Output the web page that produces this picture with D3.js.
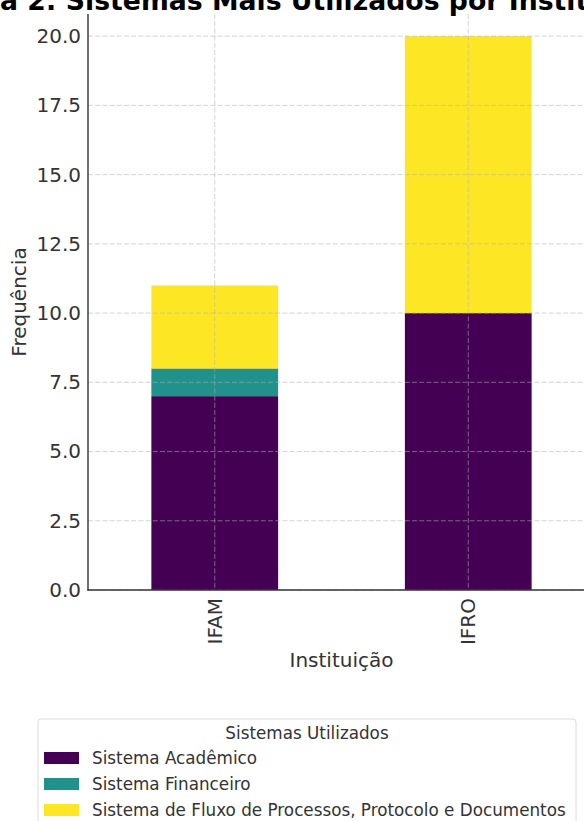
<!DOCTYPE html>
<html>
<head>
<meta charset="utf-8">
<script src="https://cdn.jsdelivr.net/npm/d3@7"></script>
<style>
  html, body { margin: 0; padding: 0; background: #fff; }
  svg { display: block; }
  text { font-family: "DejaVu Sans", sans-serif; }
</style>
</head>
<body>
<svg id="chart" width="584" height="821"></svg>
<script>
// ---- data ----
const categories = ["IFAM", "IFRO"];
const seriesNames = ["Sistema Acadêmico", "Sistema Financeiro", "Sistema de Fluxo de Processos, Protocolo e Documentos"];
const sistemaAcademico = [7, 10];
const sistemaFinanceiro = [1, 0];
const sistemaFluxo = [3, 10];
const seriesColors = ["#440154", "#21918c", "#fde725"];
const yTicks = [0, 2.5, 5, 7.5, 10, 12.5, 15, 17.5, 20];
const titleText = "Figura 2: Sistemas Mais Utilizados por Instituição";
const xLabel = "Instituição";
const yLabel = "Frequência";
const legendTitle = "Sistemas Utilizados";

// ---- layout ----
const svg = d3.select("#chart");
const plot = { left: 88, right: 595, top: 14, bottom: 590 };
const yMax = 20.8;
const textColor = "#333";

const rows = categories.map((c, i) => ({
  cat: c,
  [seriesNames[0]]: sistemaAcademico[i],
  [seriesNames[1]]: sistemaFinanceiro[i],
  [seriesNames[2]]: sistemaFluxo[i]
}));
const stacked = d3.stack().keys(seriesNames)(rows);

const x = d3.scaleBand().domain(categories)
  .range([plot.left, plot.right]).paddingInner(0.5).paddingOuter(0.25);
const y = d3.scaleLinear().domain([0, yMax]).range([plot.bottom, plot.top]);
const color = d3.scaleOrdinal().domain(seriesNames).range(seriesColors);

// bars
svg.append("g").selectAll("g").data(stacked).join("g")
  .attr("fill", d => color(d.key))
  .selectAll("rect").data(d => d).join("rect")
  .attr("x", d => x(d.data.cat))
  .attr("width", x.bandwidth())
  .attr("y", d => y(d[1]))
  .attr("height", d => y(d[0]) - y(d[1]));

// grid (drawn over bars)
const grid = svg.append("g")
  .attr("stroke", "#b0b0b0").attr("stroke-opacity", 0.55)
  .attr("stroke-width", 1).attr("stroke-dasharray", "5,2.2");
grid.selectAll("line.h").data(yTicks).join("line").attr("class", "h")
  .attr("x1", plot.left).attr("x2", plot.right)
  .attr("y1", d => y(d)).attr("y2", d => y(d));
grid.selectAll("line.v").data(categories).join("line").attr("class", "v")
  .attr("x1", d => x(d) + x.bandwidth() / 2).attr("x2", d => x(d) + x.bandwidth() / 2)
  .attr("y1", plot.top).attr("y2", plot.bottom);

// y axis
const yAxis = svg.append("g").attr("transform", `translate(${plot.left},0)`)
  .call(d3.axisLeft(y).tickValues(yTicks).tickFormat(d3.format(".1f")).tickSize(0).tickPadding(7));
yAxis.select(".domain").remove();
yAxis.selectAll("text").attr("font-size", 20).attr("fill", textColor)
  .attr("font-family", "DejaVu Sans");

// x axis
const xAxis = svg.append("g").attr("transform", `translate(0,${plot.bottom})`)
  .call(d3.axisBottom(x).tickSize(0));
xAxis.select(".domain").remove();
xAxis.selectAll("text")
  .attr("font-size", 20).attr("fill", textColor).attr("font-family", "DejaVu Sans")
  .attr("text-anchor", "end")
  .attr("transform", "rotate(-90)")
  .attr("x", -8).attr("y", 7).attr("dy", 0);

// spines
svg.append("line").attr("x1", plot.left).attr("x2", plot.left)
  .attr("y1", plot.top).attr("y2", plot.bottom + 0.6)
  .attr("stroke", "#333").attr("stroke-width", 1.4);
svg.append("line").attr("x1", plot.left - 0.7).attr("x2", plot.right)
  .attr("y1", plot.bottom).attr("y2", plot.bottom)
  .attr("stroke", "#333").attr("stroke-width", 1.4);

// axis labels
svg.append("text").attr("x", (plot.left + plot.right) / 2).attr("y", 667)
  .attr("text-anchor", "middle").attr("font-size", 20).attr("fill", textColor).text(xLabel);
svg.append("text").attr("transform", `translate(26,${(plot.top + plot.bottom) / 2}) rotate(-90)`)
  .attr("text-anchor", "middle").attr("font-size", 20).attr("fill", textColor).text(yLabel);

// title (cropped at the top/left as in the reference)
const title = svg.append("text").attr("y", 9.5)
  .attr("font-size", 26.7).attr("font-weight", "bold").attr("fill", "#000").text(titleText);
const tmp = svg.append("text").attr("font-size", 26.7).attr("font-weight", "bold").text("Figur");
const off = tmp.node().getComputedTextLength();
tmp.remove();
title.attr("x", -off);

// legend
const lg = { x: 38, y: 719, w: 538, h: 110 };
const legend = svg.append("g");
legend.append("rect").attr("x", lg.x).attr("y", lg.y).attr("width", lg.w).attr("height", lg.h)
  .attr("rx", 3).attr("fill", "#fff").attr("stroke", "#dcdcdc").attr("stroke-width", 1);
legend.append("text").attr("x", lg.x + lg.w / 2).attr("y", 739)
  .attr("text-anchor", "middle").attr("font-size", 16.8).attr("fill", textColor).text(legendTitle);
const items = legend.selectAll("g.item").data(seriesNames).join("g").attr("class", "item")
  .attr("transform", (d, i) => `translate(0,${758 + i * 26})`);
items.append("rect").attr("x", 44).attr("y", -6).attr("width", 35).attr("height", 12)
  .attr("fill", d => color(d));
items.append("text").attr("x", 92).attr("y", 6)
  .attr("font-size", 16.8).attr("fill", textColor).text(d => d);
</script>
</body>
</html>
